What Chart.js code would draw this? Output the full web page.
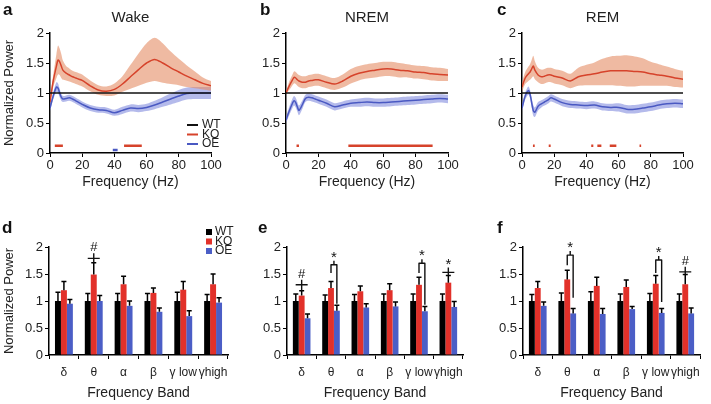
<!DOCTYPE html>
<html>
<head>
<meta charset="utf-8">
<script src="https://cdn.jsdelivr.net/npm/chart.js@4.4.1/dist/chart.umd.min.js"></script>
<style>
body { margin: 0; background: #fff; }
#fig { position: relative; width: 711px; height: 404px; overflow: hidden; font-family: Arial, "Liberation Sans", sans-serif; }
#fig canvas { position: absolute; }
.lbl { position: absolute; font-weight: bold; font-size: 17px; line-height: 1; color: #111; }
</style>
</head>
<body>
<div id="fig">
  <canvas id="cWake" width="237" height="200" style="left:0;top:0"></canvas>
  <canvas id="cNrem" width="237" height="200" style="left:237px;top:0"></canvas>
  <canvas id="cRem" width="237" height="200" style="left:474px;top:0"></canvas>
  <canvas id="bWake" width="237" height="204" style="left:0;top:200px"></canvas>
  <canvas id="bNrem" width="237" height="204" style="left:237px;top:200px"></canvas>
  <canvas id="bRem" width="237" height="204" style="left:474px;top:200px"></canvas>
  <div class="lbl" style="left:3px;top:1px">a</div>
  <div class="lbl" style="left:260px;top:1px">b</div>
  <div class="lbl" style="left:497px;top:1px">c</div>
  <div class="lbl" style="left:2px;top:219px">d</div>
  <div class="lbl" style="left:258px;top:219px">e</div>
  <div class="lbl" style="left:497px;top:219px">f</div>
</div>
<script>
// spectra (normalized to WT)
var freq = [0, 2, 4, 5, 6, 7, 8, 10, 12, 14, 16, 18, 20, 25, 30, 35, 40, 45, 50, 55, 60, 65, 70, 75, 80, 85, 90, 95, 100];
var wtFreq = [0, 100];
var wtPower = [1, 1];

var wakeKO    = [0.85, 1.2, 1.45, 1.55, 1.52, 1.45, 1.38, 1.33, 1.3, 1.27, 1.25, 1.23, 1.21, 1.12, 1.05, 1.03, 1.06, 1.15, 1.27, 1.39, 1.5, 1.56, 1.5, 1.42, 1.35, 1.28, 1.22, 1.16, 1.12];
var wakeKOErr = [0.05, 0.1, 0.2, 0.24, 0.22, 0.2, 0.16, 0.12, 0.11, 0.1, 0.1, 0.1, 0.1, 0.09, 0.08, 0.08, 0.1, 0.13, 0.2, 0.27, 0.33, 0.36, 0.33, 0.27, 0.22, 0.18, 0.14, 0.1, 0.08];
var wakeOE    = [0.75, 0.95, 1.1, 1.08, 1.0, 0.93, 0.9, 0.91, 0.92, 0.9, 0.87, 0.84, 0.81, 0.75, 0.72, 0.71, 0.67, 0.71, 0.75, 0.74, 0.76, 0.8, 0.85, 0.9, 0.95, 0.99, 1.0, 1.0, 1.0];
var wakeOEErr = [0.05, 0.06, 0.08, 0.08, 0.07, 0.06, 0.05, 0.05, 0.05, 0.05, 0.05, 0.05, 0.05, 0.05, 0.05, 0.05, 0.05, 0.06, 0.06, 0.06, 0.06, 0.07, 0.08, 0.09, 0.1, 0.1, 0.1, 0.1, 0.1];

var nremKO    = [1.0, 1.12, 1.22, 1.26, 1.25, 1.22, 1.2, 1.18, 1.18, 1.2, 1.21, 1.22, 1.22, 1.18, 1.15, 1.2, 1.28, 1.33, 1.36, 1.38, 1.4, 1.4, 1.38, 1.37, 1.35, 1.34, 1.32, 1.31, 1.3];
var nremKOErr = [0.02, 0.07, 0.09, 0.1, 0.1, 0.1, 0.1, 0.1, 0.1, 0.1, 0.1, 0.1, 0.1, 0.1, 0.1, 0.11, 0.12, 0.12, 0.12, 0.12, 0.12, 0.12, 0.12, 0.11, 0.11, 0.11, 0.11, 0.11, 0.1];
var nremOE    = [0.55, 0.7, 0.83, 0.87, 0.84, 0.77, 0.71, 0.8, 0.91, 0.93, 0.92, 0.9, 0.88, 0.83, 0.77, 0.8, 0.83, 0.84, 0.85, 0.84, 0.84, 0.85, 0.86, 0.87, 0.88, 0.89, 0.9, 0.91, 0.9];
var nremOEErr = [0.05, 0.07, 0.08, 0.08, 0.08, 0.08, 0.08, 0.07, 0.06, 0.06, 0.06, 0.06, 0.06, 0.06, 0.06, 0.06, 0.06, 0.07, 0.07, 0.07, 0.07, 0.07, 0.07, 0.07, 0.07, 0.07, 0.07, 0.07, 0.07];

var remKO    = [1.1, 1.25, 1.32, 1.35, 1.4, 1.45, 1.38, 1.3, 1.27, 1.28, 1.3, 1.3, 1.28, 1.25, 1.2, 1.27, 1.3, 1.32, 1.35, 1.37, 1.37, 1.37, 1.36, 1.35, 1.32, 1.3, 1.28, 1.25, 1.23];
var remKOErr = [0.08, 0.1, 0.12, 0.13, 0.15, 0.17, 0.15, 0.12, 0.12, 0.12, 0.12, 0.12, 0.12, 0.12, 0.12, 0.15, 0.17, 0.19, 0.22, 0.24, 0.25, 0.26, 0.25, 0.23, 0.2, 0.18, 0.16, 0.15, 0.14];
var remOE    = [0.75, 0.95, 1.04, 0.98, 0.84, 0.71, 0.68, 0.78, 0.82, 0.85, 0.88, 0.92, 0.9, 0.84, 0.81, 0.8, 0.79, 0.8, 0.77, 0.76, 0.76, 0.73, 0.73, 0.75, 0.77, 0.8, 0.82, 0.83, 0.82];
var remOEErr = [0.05, 0.06, 0.07, 0.07, 0.08, 0.09, 0.08, 0.07, 0.06, 0.06, 0.06, 0.06, 0.06, 0.06, 0.06, 0.06, 0.06, 0.06, 0.06, 0.06, 0.07, 0.07, 0.07, 0.07, 0.07, 0.07, 0.07, 0.07, 0.07];

// significant frequency ranges (Hz)
var wakeKOSig = [[3, 8], [46, 57]];
var wakeOESig = [[39, 42]];
var nremKOSig = [[6.5, 8], [38.5, 90.5]];
var nremOESig = [];
var remKOSig = [[6.8, 7.9], [16.6, 17.8], [43, 44.3], [46.8, 49.3], [54.5, 58.6], [73, 74]];
var remOESig = [];
var koSigLevel = 0.12;
var oeSigLevel = 0.05;

// band power
var bands = ['δ', 'θ', 'α', 'β', 'γ low', 'γhigh'];
var wakeBarWT = [1, 1, 1, 1, 1, 1];
var wakeBarWTErr = [0.16, 0.14, 0.14, 0.14, 0.16, 0.12];
var wakeBarKO = [1.2, 1.49, 1.31, 1.15, 1.21, 1.31];
var wakeBarKOErr = [0.16, 0.22, 0.15, 0.09, 0.15, 0.19];
var wakeBarOE = [0.95, 1.0, 0.91, 0.8, 0.72, 0.97];
var wakeBarOEErr = [0.08, 0.1, 0.09, 0.07, 0.1, 0.09];

var nremBarWT = [1, 1, 1, 1, 1, 1];
var nremBarWTErr = [0.13, 0.11, 0.12, 0.13, 0.13, 0.13];
var nremBarKO = [1.1, 1.24, 1.18, 1.2, 1.3, 1.34];
var nremBarKOErr = [0.09, 0.12, 0.1, 0.12, 0.14, 0.13];
var nremBarOE = [0.68, 0.82, 0.88, 0.9, 0.81, 0.89];
var nremBarOEErr = [0.08, 0.1, 0.07, 0.08, 0.09, 0.1];

var remBarWT = [1, 1, 1, 1, 1, 1];
var remBarWTErr = [0.12, 0.15, 0.17, 0.13, 0.14, 0.13];
var remBarKO = [1.24, 1.4, 1.28, 1.26, 1.32, 1.31];
var remBarKOErr = [0.12, 0.17, 0.16, 0.13, 0.15, 0.18];
var remBarOE = [0.91, 0.77, 0.76, 0.85, 0.78, 0.77];
var remBarOEErr = [0.07, 0.09, 0.1, 0.05, 0.08, 0.1];

// significance marks on the bar panels
var wakeMarks = [{ band: 1, kind: 'cross', mark: '#', level: 1.79 }];
var nremMarks = [
    { band: 0, kind: 'cross', mark: '#', level: 1.3 },
    { band: 1, kind: 'bracket', mark: '*', level: 1.67, koEnd: 1.52, oeEnd: 0.95 },
    { band: 4, kind: 'bracket', mark: '*', level: 1.7, koEnd: 1.52, oeEnd: 0.93 },
    { band: 5, kind: 'cross', mark: '*', level: 1.53 }
];
var remMarks = [
    { band: 1, kind: 'bracket', mark: '*', level: 1.85, koEnd: 1.66, oeEnd: 1.06 },
    { band: 4, kind: 'bracket', mark: '*', level: 1.76, koEnd: 1.52, oeEnd: 0.98 },
    { band: 5, kind: 'cross', mark: '#', level: 1.54 }
];

var KO_LINE = '#d6432b';
var KO_BAND = 'rgba(228,140,100,0.6)';
var OE_LINE = '#4a59c2';
var OE_BAND = 'rgba(118,130,218,0.55)';
var KO_BAR = '#e2312a';
var OE_BAR = '#4b5ec6';
var FONT = 'Arial, "Liberation Sans", sans-serif';

Chart.defaults.font.family = FONT;
Chart.defaults.color = '#222';
Chart.defaults.animation = false;

function pts(xs, ys) {
    return xs.map(function (x, i) { return { x: x, y: ys[i] }; });
}
function band(xs, ys, err, sign) {
    return xs.map(function (x, i) { return { x: x, y: ys[i] + sign * err[i] }; });
}
function sigPts(segs, level) {
    var out = [];
    segs.forEach(function (s) {
        out.push({ x: s[0], y: level }, { x: s[1], y: level }, { x: s[1], y: null });
    });
    return out;
}
function plainNum(v) {
    return String(Math.round(v * 10) / 10);
}

// legend drawn inside the plot area
var cornerLegend = {
    id: 'cornerLegend',
    afterDraw: function (chart, args, opts) {
        if (!opts.items) return;
        var ctx = chart.ctx;
        ctx.save();
        ctx.font = '12px ' + FONT;
        ctx.textBaseline = 'middle';
        ctx.textAlign = 'left';
        opts.items.forEach(function (it, i) {
            var y = opts.y + i * opts.dy;
            if (opts.mode === 'line') {
                ctx.strokeStyle = it.color;
                ctx.lineWidth = 2;
                ctx.beginPath();
                ctx.moveTo(opts.x, y);
                ctx.lineTo(opts.x + 11, y);
                ctx.stroke();
                ctx.fillStyle = '#222';
                ctx.fillText(it.label, opts.x + 15, y);
            } else {
                ctx.fillStyle = it.color;
                ctx.fillRect(opts.x, y - 3, 6, 6);
                ctx.fillStyle = '#222';
                ctx.fillText(it.label, opts.x + 9, y);
            }
        });
        ctx.restore();
    }
};

var errorBars = {
    id: 'errorBars',
    afterDatasetsDraw: function (chart) {
        var ctx = chart.ctx, ys = chart.scales.y;
        ctx.save();
        ctx.strokeStyle = '#000';
        ctx.lineWidth = 1.5;
        chart.data.datasets.forEach(function (ds, i) {
            if (!ds.errors) return;
            chart.getDatasetMeta(i).data.forEach(function (bar, j) {
                var top = ys.getPixelForValue(ds.data[j] + ds.errors[j]);
                ctx.beginPath();
                ctx.moveTo(bar.x, bar.y);
                ctx.lineTo(bar.x, top);
                ctx.moveTo(bar.x - 2.5, top);
                ctx.lineTo(bar.x + 2.5, top);
                ctx.stroke();
            });
        });
        ctx.restore();
    }
};

var sigMarks = {
    id: 'sigMarks',
    afterDatasetsDraw: function (chart, args, opts) {
        if (!opts.marks) return;
        var ctx = chart.ctx, ys = chart.scales.y;
        var ko = chart.data.datasets[1];
        var koMeta = chart.getDatasetMeta(1), oeMeta = chart.getDatasetMeta(2);
        opts.marks.forEach(function (m) {
            var kx = koMeta.data[m.band].x, ox = oeMeta.data[m.band].x;
            var ly = ys.getPixelForValue(m.level);
            var cx;
            ctx.save();
            ctx.strokeStyle = '#111';
            ctx.lineWidth = 1.4;
            ctx.lineJoin = 'round';
            ctx.beginPath();
            if (m.kind === 'cross') {
                cx = kx;
                var errTop = ys.getPixelForValue(ko.data[m.band] + ko.errors[m.band]);
                ctx.moveTo(kx - 6, ly);
                ctx.lineTo(kx + 6, ly);
                ctx.moveTo(kx, errTop);
                ctx.lineTo(kx, ly - 5);
            } else {
                cx = (kx + ox) / 2;
                ctx.moveTo(kx, ys.getPixelForValue(m.koEnd));
                ctx.lineTo(kx, ly);
                ctx.lineTo(ox, ly);
                ctx.lineTo(ox, ys.getPixelForValue(m.oeEnd));
                ctx.moveTo(cx, ly);
                ctx.lineTo(cx, ly - 4);
            }
            ctx.stroke();
            ctx.fillStyle = '#111';
            ctx.textAlign = 'center';
            ctx.textBaseline = 'alphabetic';
            if (m.mark === '*') {
                ctx.font = '15px ' + FONT;
                ctx.fillText('*', cx, ly - 3);
            } else {
                ctx.font = '13px ' + FONT;
                ctx.fillText('#', cx, ly - 7);
            }
            ctx.restore();
        });
    }
};

function axisStyle() {
    return {
        grid: { drawOnChartArea: false, tickLength: 4, color: '#000', lineWidth: 1 },
        border: { color: '#000', width: 1.5 }
    };
}

function drawSpectrum(id, title, ko, koErr, oe, oeErr, koSig, oeSig, yTitle, yWidth, padRight, legend) {
    var xAx = axisStyle(), yAx = axisStyle();
    new Chart(document.getElementById(id), {
        type: 'line',
        data: {
            datasets: [
                { label: 'WT', data: pts(wtFreq, wtPower), borderColor: '#111', borderWidth: 1.6, pointRadius: 0 },
                { label: 'KO', data: pts(freq, ko), borderColor: KO_LINE, borderWidth: 1.5, pointRadius: 0, tension: 0.3 },
                { label: 'OE', data: pts(freq, oe), borderColor: OE_LINE, borderWidth: 1.5, pointRadius: 0, tension: 0.3 },
                { label: 'KO+', data: band(freq, ko, koErr, 1), borderWidth: 0, pointRadius: 0, tension: 0.3, fill: '+1', backgroundColor: KO_BAND },
                { label: 'KO-', data: band(freq, ko, koErr, -1), borderWidth: 0, pointRadius: 0, tension: 0.3 },
                { label: 'OE+', data: band(freq, oe, oeErr, 1), borderWidth: 0, pointRadius: 0, tension: 0.3, fill: '+1', backgroundColor: OE_BAND },
                { label: 'OE-', data: band(freq, oe, oeErr, -1), borderWidth: 0, pointRadius: 0, tension: 0.3 },
                { label: 'KO sig', data: sigPts(koSig, koSigLevel), borderColor: KO_LINE, borderWidth: 2.5, pointRadius: 0, spanGaps: false },
                { label: 'OE sig', data: sigPts(oeSig, oeSigLevel), borderColor: OE_LINE, borderWidth: 2.5, pointRadius: 0, spanGaps: false }
            ]
        },
        options: {
            responsive: false,
            layout: { padding: { left: 0, right: padRight, top: 0, bottom: 0 } },
            plugins: {
                legend: { display: false },
                tooltip: { enabled: false },
                title: { display: true, text: title, fullSize: false, font: { size: 15, weight: 'normal' }, color: '#222', padding: { top: 9, bottom: 6 } },
                cornerLegend: legend || {}
            },
            scales: {
                x: {
                    type: 'linear', min: 0, max: 100,
                    ticks: { stepSize: 20, padding: 1, font: { size: 13 }, maxRotation: 0 },
                    grid: xAx.grid, border: xAx.border,
                    title: { display: true, text: 'Frequency (Hz)', font: { size: 14 }, padding: { top: 0, bottom: 9 } },
                    afterFit: function (s) { s.height = 47; }
                },
                y: {
                    min: 0, max: 2,
                    ticks: { stepSize: 0.5, padding: 2, font: { size: 13 }, callback: plainNum },
                    grid: yAx.grid, border: yAx.border,
                    title: { display: yTitle, text: 'Normalized Power', font: { size: 13 }, padding: { top: 2, bottom: 0 } },
                    afterFit: function (s) { s.width = yWidth; }
                }
            }
        },
        plugins: [cornerLegend]
    });
}

function drawBands(id, wt, wtErr, ko, koErr, oe, oeErr, marks, yTitle, yWidth, padRight, legend) {
    var xAx = axisStyle(), yAx = axisStyle();
    new Chart(document.getElementById(id), {
        type: 'bar',
        data: {
            labels: bands,
            datasets: [
                { label: 'WT', data: wt, errors: wtErr, backgroundColor: '#000' },
                { label: 'KO', data: ko, errors: koErr, backgroundColor: KO_BAR },
                { label: 'OE', data: oe, errors: oeErr, backgroundColor: OE_BAR }
            ]
        },
        options: {
            responsive: false,
            categoryPercentage: 0.6,
            barPercentage: 1.0,
            layout: { padding: { left: 0, right: padRight, top: 47, bottom: 0 } },
            plugins: {
                legend: { display: false },
                tooltip: { enabled: false },
                sigMarks: { marks: marks },
                cornerLegend: legend || {}
            },
            scales: {
                x: {
                    ticks: { padding: 6, font: { size: 12 }, maxRotation: 0, minRotation: 0, autoSkip: false },
                    grid: { drawOnChartArea: false, tickLength: 4, color: '#000', offset: true },
                    border: xAx.border,
                    title: { display: true, text: 'Frequency Band', font: { size: 14 }, padding: { top: 0, bottom: 2 } },
                    afterFit: function (s) { s.height = 49; }
                },
                y: {
                    min: 0, max: 2,
                    ticks: { stepSize: 0.5, padding: 2, font: { size: 13 }, callback: plainNum },
                    grid: yAx.grid, border: yAx.border,
                    title: { display: yTitle, text: 'Normalized Power', font: { size: 13 }, padding: { top: 2, bottom: 0 } },
                    afterFit: function (s) { s.width = yWidth; }
                }
            }
        },
        plugins: [errorBars, sigMarks, cornerLegend]
    });
}

var legendItems = [
    { label: 'WT', color: '#111' },
    { label: 'KO', color: KO_LINE },
    { label: 'OE', color: OE_LINE }
];

drawSpectrum('cWake', 'Wake', wakeKO, wakeKOErr, wakeOE, wakeOEErr, wakeKOSig, wakeOESig, true, 50, 26,
    { mode: 'line', x: 187, y: 125, dy: 9.5, items: legendItems });
drawSpectrum('cNrem', 'NREM', nremKO, nremKOErr, nremOE, nremOEErr, nremKOSig, nremOESig, false, 49, 26);
drawSpectrum('cRem', 'REM', remKO, remKOErr, remOE, remOEErr, remKOSig, remOESig, false, 48, 28);

drawBands('bWake', wakeBarWT, wakeBarWTErr, wakeBarKO, wakeBarKOErr, wakeBarOE, wakeBarOEErr, wakeMarks, true, 49, 9,
    { mode: 'box', x: 206, y: 32, dy: 9.5, items: [{ label: 'WT', color: '#000' }, { label: 'KO', color: KO_BAR }, { label: 'OE', color: OE_BAR }] });
drawBands('bNrem', nremBarWT, nremBarWTErr, nremBarKO, nremBarKOErr, nremBarOE, nremBarOEErr, nremMarks, false, 50, 11);
drawBands('bRem', remBarWT, remBarWTErr, remBarKO, remBarKOErr, remBarOE, remBarOEErr, remMarks, false, 49, 11);
</script>
</body>
</html>
